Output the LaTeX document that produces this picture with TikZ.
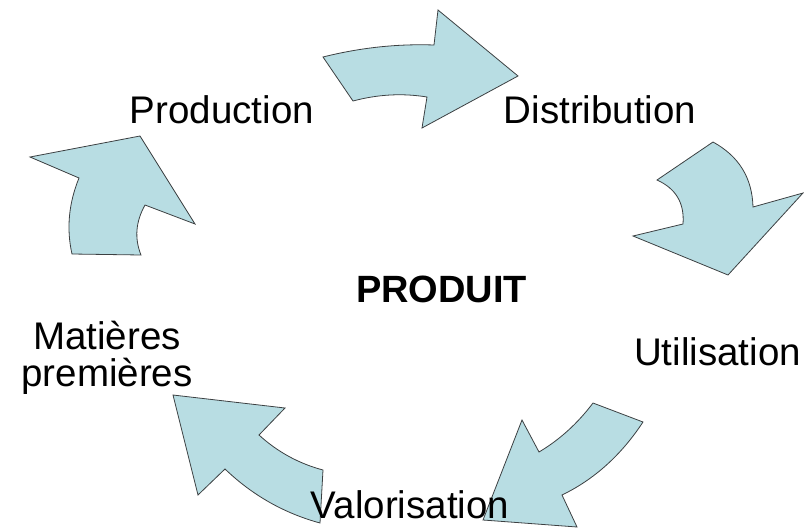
\documentclass[tikz,border=0pt]{standalone}
\usepackage{fontspec}
\setmainfont{Liberation Sans}
\definecolor{arrowfill}{RGB}{184,221,227}
\definecolor{arrowline}{RGB}{60,64,66}
\begin{document}
\begin{tikzpicture}[x=1pt,y=-1pt,
  cyclearrow/.style={fill=arrowfill,draw=arrowline,line width=0.8pt,line join=miter},
  lbl/.style={inner sep=0pt,anchor=base,font=\fontsize{38.5}{44}\selectfont,text=black}]
\useasboundingbox (0,0) rectangle (804,528);
% arrow Production -> Distribution
\draw[cyclearrow] (323,57) .. controls (360,47.7) and (397,43.7) .. (434,45) -- (438,10) -- (518,76) -- (422,128) -- (427,97)
  .. controls (402.3,93) and (377.7,94.4) .. (353,101) -- cycle;
% arrow Distribution -> Utilisation
\draw[cyclearrow] (713,142) .. controls (738.8,156.1) and (752.2,177.7) .. (753,207) -- (803,193) -- (728,275) -- (633,236) -- (683,224)
  .. controls (684.6,203.2) and (676,188.6) .. (657,180) -- cycle;
% arrow Utilisation -> Valorisation
\draw[cyclearrow] (593,403) -- (643,422) .. controls (621.3,455) and (594.3,479.4) .. (562,495) -- (577,527) -- (483,520) -- (522,420) -- (539,452)
  .. controls (559.7,439.7) and (577.7,423.3) .. (593,403) -- cycle;
% arrow Valorisation -> Matieres premieres
\draw[cyclearrow] (173,395) -- (285,408) -- (259,435) .. controls (277.6,452) and (299,463.6) .. (323,470) -- (320,523)
  .. controls (283.8,513.1) and (252.2,495.1) .. (225,469) -- (198,495) -- cycle;
% arrow Matieres premieres -> Production
\draw[cyclearrow] (30,157) -- (140,136) -- (195,224) -- (145,205) .. controls (135.7,221.7) and (134.3,238.3) .. (141,255) -- (72,254)
  .. controls (66.3,228.7) and (68.7,203.3) .. (79,178) -- cycle;
% labels
\node[lbl] (prod) at (222,123) {Production};
\node[lbl] (dist) at (600,123) {Distribution};
\node[lbl] (util) at (717.5,365) {Utilisation};
\node[lbl] (valo) at (410,518) {Valorisation};
\node[lbl] (mat1) at (107,349) {Matières};
\node[lbl] (mat2) at (107,386) {premières};
\node[lbl,font=\fontsize{38}{44}\selectfont\bfseries] (produit) at (441.5,302) {PRODUIT};
\end{tikzpicture}
\end{document}
